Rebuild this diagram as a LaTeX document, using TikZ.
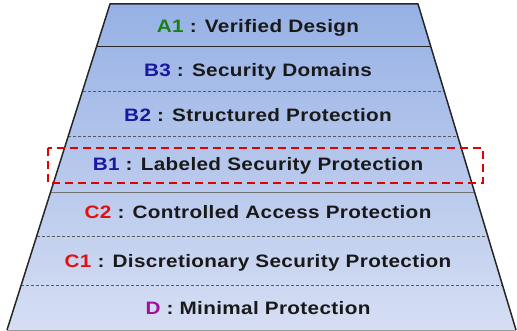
\documentclass[tikz,border=0pt]{standalone}
\usepackage{fontspec}
\setmainfont{Liberation Sans}[FakeStretch=1.15,LetterSpace=2]
\usetikzlibrary{calc}

\definecolor{layertop}{RGB}{150,177,229}
\definecolor{layerbot}{RGB}{214,222,243}
\definecolor{lvA}{RGB}{24,128,24}
\definecolor{lvB}{RGB}{24,24,160}
\definecolor{lvC}{RGB}{226,16,16}
\definecolor{lvD}{RGB}{160,16,160}

\begin{document}
\begin{tikzpicture}[x=1pt, y=-1pt,
    level/.style={anchor=base, font=\bfseries\fontsize{18}{21}\selectfont, text=black!90},
    sepdash/.style={black!65, line width=0.8pt, dash pattern=on 3pt off 2pt},
    sepsolid/.style={line width=1pt},
    highlight/.style={red!90!black, line width=2pt, dash pattern=on 8pt off 5pt}]
  \useasboundingbox (0,0) rectangle (517,331);
  \coordinate (tl) at (110,4);
  \coordinate (tr) at (418,4);
  \coordinate (bl) at (7,330);
  \coordinate (br) at (516,330);
  \shade[top color=layertop, bottom color=layerbot] (tl) -- (tr) -- (br) -- (bl) -- cycle;
  % separators between the levels
  \draw[sepsolid, black!85] ($(tl)!{43/326}!(bl)$) -- ($(tr)!{43/326}!(br)$);
  \draw[sepdash] ($(tl)!{87/326}!(bl)$) -- ($(tr)!{87/326}!(br)$);
  \draw[sepdash] ($(tl)!{132/326}!(bl)$) -- ($(tr)!{132/326}!(br)$);
  \draw[sepsolid, black!55] ($(tl)!{189/326}!(bl)$) -- ($(tr)!{189/326}!(br)$);
  \draw[sepdash] ($(tl)!{232/326}!(bl)$) -- ($(tr)!{232/326}!(br)$);
  \draw[sepdash] ($(tl)!{281/326}!(bl)$) -- ($(tr)!{281/326}!(br)$);
  \draw[line width=1.5pt, black!85, line join=round] (bl) -- (tl) -- (tr) -- (br);
  \draw[line width=1pt, black!40] (bl) -- (br);
  \node[level] (a1) at (258,33) {\textcolor{lvA}{A1} : Verified Design};
  \node[level] (b3) at (258,76.5) {\textcolor{lvB}{B3} : Security Domains};
  \node[level] (b2) at (258,121.5) {\textcolor{lvB}{B2} : Structured Protection};
  \node[level] (b1) at (258,171) {\textcolor{lvB}{B1} : Labeled Security Protection};
  \node[level] (c2) at (258,219) {\textcolor{lvC}{C2} : Controlled Access Protection};
  \node[level] (c1) at (258,268) {\textcolor{lvC}{C1} : Discretionary Security Protection};
  \node[level] (d) at (258,314) {\textcolor{lvD}{D} : Minimal Protection};
  \draw[highlight] (48,148) rectangle (483,183);
\end{tikzpicture}
\end{document}
